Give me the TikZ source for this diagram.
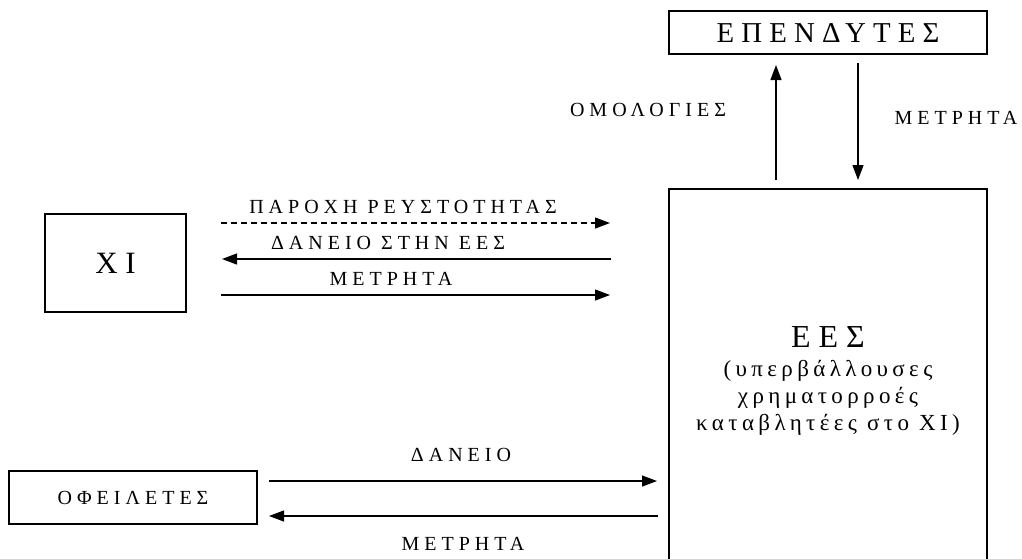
\documentclass[tikz,border=0pt]{standalone}
\usepackage{fontspec}
\setmainfont{Liberation Serif}[LetterSpace=25]
\newfontfamily\eesfont{Liberation Serif}[LetterSpace=19]
\usetikzlibrary{arrows.meta}

\tikzset{
  box/.style={draw, line width=0.6pt, inner sep=0pt},
  flow/.style={-{Triangle[length=7.5pt,width=5.5pt]}, line width=0.6pt},
  lbl/.style={font=\fontsize{10}{12}\selectfont, inner sep=0pt},
}

\begin{document}
\begin{tikzpicture}[x=0.5pt, y=-0.5pt]
\useasboundingbox (0,0) rectangle (1022,558);
\clip (0,0) rectangle (1022,558);

% boxes
\node[box, minimum width=159pt, minimum height=21.5pt, font=\fontsize{14.4}{17}\selectfont] (inv) at (828,32.5) {ΕΠΕΝΔΥΤΕΣ};
\node[box, minimum width=70.5pt, minimum height=49pt, font=\fontsize{15.5}{18}\selectfont] (xi) at (115.5,263) {ΧΙ};
\node[box, minimum width=124pt, minimum height=26.5pt, font=\fontsize{10}{12}\selectfont] (deb) at (133,497.5) {ΟΦΕΙΛΕΤΕΣ};
\node[box, minimum width=159pt, minimum height=192pt, align=center, font=\eesfont\fontsize{11.5}{13.5}\selectfont] (ees) at (828,381)
  {{\normalfont\fontsize{16}{16}\selectfont ΕΕΣ}\\[1pt](υπερβάλλουσες\\χρηματορροές\\καταβλητέες στο ΧΙ)};

% arrow ends
\coordinate (up0) at (776,180);
\coordinate (up1) at (776,65);
\coordinate (dn0) at (858,63);
\coordinate (dn1) at (858,180);
\coordinate (a0) at (221,223);
\coordinate (a1) at (610,223);
\coordinate (b0) at (611,259);
\coordinate (b1) at (222,259);
\coordinate (c0) at (221,295);
\coordinate (c1) at (610,295);
\coordinate (d0) at (269,481);
\coordinate (d1) at (657,481);
\coordinate (e0) at (658,516);
\coordinate (e1) at (269,516);

\draw[flow] (up0) -- (up1);
\draw[flow] (dn0) -- (dn1);
\draw[flow, dash pattern=on 3pt off 2pt] (a0) -- (a1);
\draw[flow] (b0) -- (b1);
\draw[flow] (c0) -- (c1);
\draw[flow] (d0) -- (d1);
\draw[flow] (e0) -- (e1);

% labels
\node[lbl] (bonds) at (648,110) {ΟΜΟΛΟΓΙΕΣ};
\node[lbl] (cashinv) at (956,118) {ΜΕΤΡΗΤΑ};
\node[lbl] (liq) at (403,207) {ΠΑΡΟΧΗ ΡΕΥΣΤΟΤΗΤΑΣ};
\node[lbl] (loanees) at (388,243) {ΔΑΝΕΙΟ ΣΤΗΝ ΕΕΣ};
\node[lbl] (cashxi) at (391,279) {ΜΕΤΡΗΤΑ};
\node[lbl] (loan) at (461,455) {ΔΑΝΕΙΟ};
\node[lbl] (cashdeb) at (463,544) {ΜΕΤΡΗΤΑ};
\end{tikzpicture}
\end{document}
